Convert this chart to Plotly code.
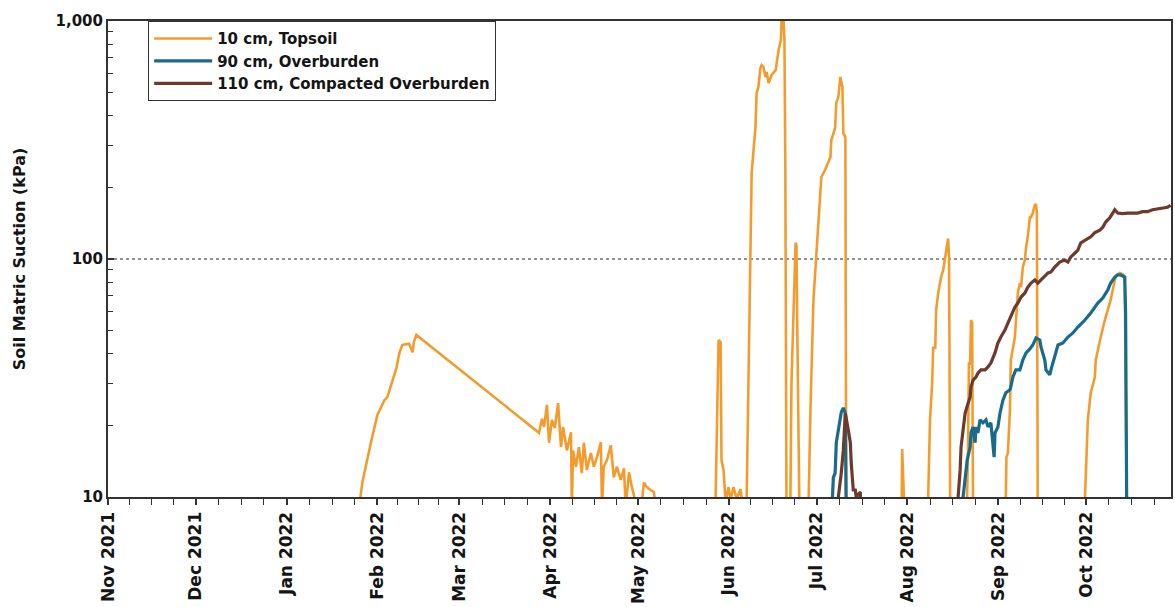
import pandas as pd
import plotly.graph_objects as go

# Sensor readings: elapsed days since 2021-11-01 and soil matric suction (kPa).
# Values below 10 kPa fall under the axis floor and are not visible.
START = pd.Timestamp("2021-11-01")

topsoil_day = [
    85.8, 86.2, 86.9, 88.2, 90.0, 92.0, 94.4, 95.4, 97.1, 98.5, 99.5, 100.5,
    101.9, 102.8, 103.6, 104.0, 104.5, 105.3,
    147.2, 148.2, 148.9, 149.9, 150.6, 151.6, 152.6, 153.7, 154.7, 155.4,
    156.7, 158.1, 158.4, 158.8, 159.8, 160.8, 161.8, 162.5, 163.5, 164.9,
    165.9, 167.0, 168.3, 168.7, 169.3, 170.4, 171.7, 172.7, 173.8, 175.1,
    176.2, 176.8, 177.9, 178.9, 180.2, 182.3, 183.0, 184.0, 185.3, 186.4,
    187.1, 188.0,
    207.0, 207.5, 208.5, 209.2, 209.5, 210.2, 210.9, 211.9, 212.6, 213.6,
    214.7, 216.0, 216.4, 217.7, 218.1, 218.7, 219.4, 219.8, 221.1, 221.5,
    222.1, 222.8, 223.2, 223.8, 224.5, 224.9, 225.6, 226.6, 228.0, 228.4,
    229.0, 229.8, 230.0, 230.7, 231.0, 231.3, 231.7, 233.0, 233.4, 234.8,
    235.1, 235.4, 236.1, 239.2, 239.9, 240.9, 242.6, 243.6, 244.9, 246.7,
    247.0, 248.3, 248.7, 249.4, 250.1, 250.8, 251.1, 251.8, 252.1,
    271.0, 271.2, 271.9,
    280.0, 280.1, 280.7, 281.4, 281.8, 282.5, 282.8, 283.5, 284.2, 284.5,
    285.2, 285.9, 286.2, 286.9, 287.2, 287.6,
    293.3, 293.7, 294.0, 294.4, 294.7, 295.1, 295.4,
    306.5, 306.6, 306.8, 307.3, 308.0, 308.3, 309.0, 309.7, 310.7, 311.4,
    311.8, 312.4, 313.1, 313.5, 314.1, 314.8, 315.2, 315.8, 316.5, 316.9,
    317.2, 317.5,
    333.5, 333.9, 334.6, 335.6, 337.0, 337.3, 338.0, 339.0, 340.4, 341.4,
    342.4, 343.1, 343.8, 344.5, 345.5, 346.5, 347.2, 347.9, 363.0,
]
topsoil_kpa = [
    8, 10, 11.6, 13.9, 17.4, 22.1, 25.5, 26.3, 31, 34.9, 40.3, 43.5,
    43.9, 44, 41.9, 40.5, 45, 48,
    18.6, 21.3, 19.7, 24.4, 16.9, 21.1, 19.5, 24.8, 16.2, 19.7,
    15.7, 18.7, 9, 15.7, 13.4, 16.2, 12.6, 16.9, 13.0, 15.3,
    13.4, 14.7, 17.0, 9, 13.4, 14.3, 16.5, 12.1, 13.4, 11.8,
    13.2, 9, 12.7, 11.0, 9.5, 9.5, 11.5, 11.0, 10.7, 10.5,
    9, 7,
    7, 10, 45.7, 44.8, 14.3, 13.0, 9.5, 11.0, 9.8, 11.0,
    9.8, 10.8, 9.8, 9.8, 10, 30.1, 102, 230, 358, 498,
    528, 635, 653, 641, 582, 611, 549, 593, 622, 685,
    755, 832, 1000, 1000, 832, 244, 9, 9, 30.1, 117,
    114, 48.9, 9, 9, 23.9, 67.3, 150, 221, 237, 268,
    316, 355, 452, 479, 582, 528, 338, 325, 9,
    9, 15.9, 9,
    9, 10, 21.1, 29.3, 42.4, 42.4, 61, 72, 81.6, 84,
    89.9, 102, 109, 122, 102, 9,
    9, 16.2, 36.9, 36, 55.4, 54, 9,
    9, 10, 14.7, 15.3, 23.2, 37.6, 42.7, 47, 72, 79.2,
    76.1, 92.5, 99, 112, 124, 150, 150, 156, 169, 169,
    156, 9,
    9, 13.4, 21.1, 27.4, 31.9, 37.6, 41.5, 47, 55.4, 61,
    67.3, 74.1, 81.6, 85.7, 87.4, 86.5, 84, 9, 9,
]

overburden_day = [
    246.0, 247.4, 247.7, 248.3, 248.7, 249.4, 250.1, 250.4, 251.1, 251.8, 252.1,
    291.5, 292.0, 292.7, 293.4, 294.4, 294.7, 295.4, 296.1, 296.4, 297.1,
    297.8, 298.8, 299.8, 300.5, 301.5, 302.2, 302.6, 302.9, 303.9, 304.6,
    305.6, 306.6, 308.0, 308.3, 309.0, 310.0, 311.4, 312.4, 313.5, 314.8,
    315.8, 316.9, 318.2, 318.6, 319.9, 320.3, 321.6, 322.0, 323.3, 324.4,
    326.1, 327.8, 329.5, 331.2, 333.6, 335.6, 338.0, 339.7, 341.4, 342.4,
    343.8, 344.8, 345.8, 347.2, 347.5, 347.9, 363.0,
]
overburden_kpa = [
    8, 10, 12.1, 12.6, 16.9, 19.1, 22.5, 22.7, 23.7, 22.5, 8,
    8, 10, 12.1, 14.3, 16.2, 18.6, 19.7, 16.9, 19.7, 18.6,
    21.1, 20.5, 21.1, 19.7, 20.5, 16.9, 14.7, 18.6, 19.7, 22.5,
    25.5, 27.4, 28.2, 29, 31.9, 34.2, 34.2, 37.6, 40.3, 41.9,
    43.5, 46.6, 45.7, 42.7, 37.6, 34.2, 32.6, 34.2, 38.7, 43.5,
    44.4, 47, 48.9, 51.8, 55.4, 59.3, 65.3, 68.5, 74.1, 79.2,
    84, 85.7, 85.7, 84, 59.3, 8, 8,
]

compacted_day = [
    249.0, 249.4, 250.4, 251.1, 251.8, 252.1, 252.8, 253.5, 253.8, 254.5,
    255.2, 255.5, 256.9, 257.2,
    290.0, 290.3, 291.0, 291.3, 292.3, 292.7, 293.7, 294.4, 294.7, 295.4,
    296.4, 297.1, 298.1, 299.5, 300.5, 301.5, 302.9, 303.9, 304.9, 306.3,
    307.3, 308.3, 309.7, 310.7, 311.8, 313.1, 314.1, 315.2, 316.5, 317.5,
    318.6, 319.9, 321.0, 322.0, 323.3, 325.0, 326.7, 327.8, 328.8, 330.2,
    331.2, 332.2, 333.6, 334.6, 335.6, 337.0, 338.7, 339.7, 340.7, 342.1,
    343.1, 343.8, 344.8, 346.5, 348.2, 349.9, 351.6, 353.3, 355.0, 356.7,
    358.4, 360.1, 361.8, 362.9,
]
compacted_kpa = [
    8, 10, 12.6, 15.7, 22.5, 21.1, 19.1, 16.9, 13.9, 10.7,
    10.7, 10, 10.5, 8,
    8, 10, 13, 16.2, 19.7, 22.5, 24.8, 26.3, 29, 31,
    31.9, 33.2, 34.2, 34.2, 35.2, 36.6, 40.3, 44.4, 47, 50.3,
    53.8, 57.1, 62.8, 65.3, 69.2, 72, 76.1, 79.2, 81.6, 79.2,
    81.6, 84, 87.4, 88.2, 92.5, 97.1, 99, 97.1, 102, 106,
    109, 117, 120, 122, 124, 129, 132, 136, 143, 149,
    156, 161, 156, 155, 156, 156, 156, 158, 158, 161,
    162, 164, 165, 168,
]

series_names = ["10 cm, Topsoil", "90 cm, Overburden", "110 cm, Compacted Overburden"]
series_colors = ["#F39C2E", "#186C8A", "#6E3A2D"]
series_widths = [2.6, 3.2, 3.2]

month_ticks = pd.date_range("2021-11-01", "2022-10-01", freq="MS")
month_labels = [d.strftime("%b %Y") for d in month_ticks]
x_end = START + pd.Timedelta(days=363)


def to_dates(days):
    return [START + pd.Timedelta(days=d) for d in days]


fig = go.Figure()

# 100 kPa reference line
fig.add_trace(go.Scatter(
    x=[START, x_end], y=[100, 100], mode="lines",
    line=dict(color="#222222", width=1, dash="dot"),
    showlegend=False, hoverinfo="skip",
))

for name, color, width, days, kpa in zip(
    series_names, series_colors, series_widths,
    [topsoil_day, overburden_day, compacted_day],
    [topsoil_kpa, overburden_kpa, compacted_kpa],
):
    fig.add_trace(go.Scatter(
        x=to_dates(days), y=kpa, mode="lines", name=name,
        line=dict(color=color, width=width),
    ))

# minor ticks: three between each month
minor_x = []
for m in pd.date_range("2021-11-01", "2022-11-01", freq="MS")[:-1]:
    nxt = m + pd.offsets.MonthBegin(1)
    span = nxt - m
    for k in (1, 2, 3):
        minor_x.append(m + span * k / 4)

minor_y = [v * 10 ** e for e in (1, 2) for v in range(2, 10)]

font_family = "'DejaVu Sans', sans-serif"
ink = "#151515"

fig.update_layout(
    width=1175, height=607,
    margin=dict(l=108, r=2, t=21, b=110),
    paper_bgcolor="white", plot_bgcolor="white",
    font=dict(family=font_family, color=ink),
    showlegend=True,
    legend=dict(
        x=0.0376, y=1.0, xanchor="left", yanchor="top",
        bgcolor="white", bordercolor="#333333", borderwidth=1.2,
        font=dict(size=15, family=font_family, color=ink, weight="bold"),
        tracegroupgap=0, itemwidth=58,
    ),
    xaxis=dict(
        type="date", range=[START, x_end],
        tickmode="array", tickvals=list(month_ticks), ticktext=month_labels,
        tickangle=-90, tickfont=dict(size=17, weight="bold", color=ink),
        ticks="outside", ticklen=6, tickwidth=1.5, tickcolor="#333333",
        showline=True, linecolor="#333333", linewidth=2, mirror=True,
        showgrid=False, zeroline=False,
        minor=dict(tickmode="array", tickvals=minor_x, ticks="outside",
                   ticklen=6, tickwidth=1.2, tickcolor="#333333", showgrid=False),
    ),
    yaxis=dict(
        type="log", range=[1, 3],
        tickmode="array", tickvals=[10, 100, 1000], ticktext=["10", "100", "1,000"],
        tickfont=dict(size=15, weight="bold", color=ink),
        ticks="inside", ticklen=6, tickwidth=1.5, tickcolor="#333333",
        showline=True, linecolor="#333333", linewidth=2, mirror=True,
        showgrid=False, zeroline=False,
        minor=dict(tickmode="array", tickvals=minor_y, ticks="inside",
                   ticklen=5, tickwidth=1.2, tickcolor="#333333", showgrid=False),
        title=dict(text="Soil Matric Suction (kPa)", standoff=26,
                   font=dict(size=16, weight="bold", color=ink)),
    ),
)

fig.write_html("out.html")
